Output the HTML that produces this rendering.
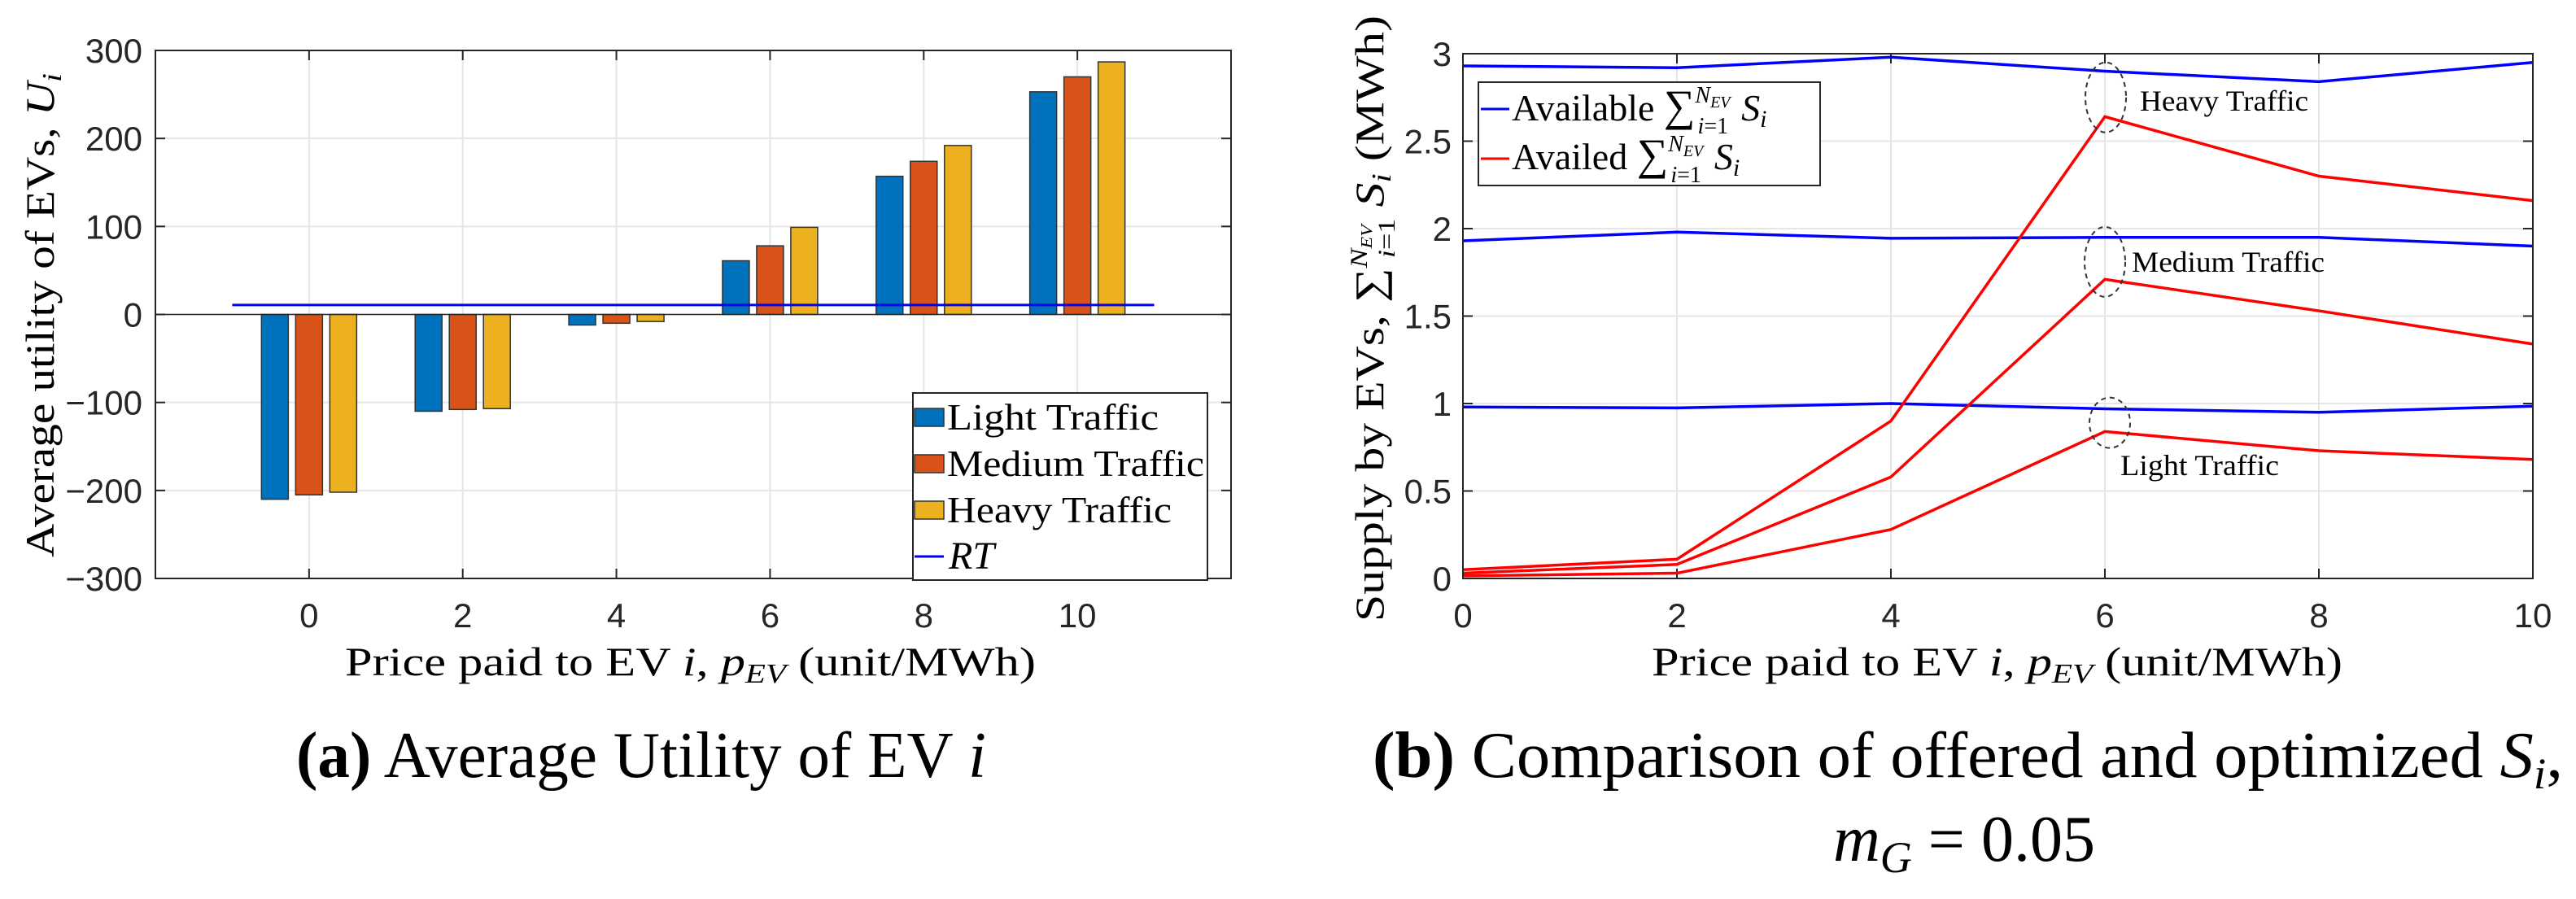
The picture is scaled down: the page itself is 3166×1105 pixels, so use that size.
<!DOCTYPE html>
<html><head><meta charset="utf-8"><style>
html,body{margin:0;padding:0;background:#fff}
svg text{font-family:"Liberation Serif",serif;fill:#000}
.tk{font-family:"Liberation Sans",sans-serif;font-size:42px;fill:#262626}
</style></head><body>
<svg id="s" width="3166" height="1100" xmlns="http://www.w3.org/2000/svg">
<rect width="3166" height="1100" fill="#fff"/>
<g id="A"></g>
<g id="B"></g>
<text x="364" y="955" font-size="80" textLength="848" lengthAdjust="spacingAndGlyphs"><tspan font-weight="bold">(a)</tspan> Average Utility of EV <tspan font-style="italic">i</tspan></text>
<text x="1687" y="955" font-size="80" textLength="1463" lengthAdjust="spacingAndGlyphs"><tspan font-weight="bold">(b)</tspan> Comparison of offered and optimized <tspan font-style="italic">S</tspan><tspan font-style="italic" font-size="54" dy="14">i</tspan><tspan dy="-14">,</tspan></text>
<text x="2253" y="1058" font-size="80" textLength="322" lengthAdjust="spacingAndGlyphs"><tspan font-style="italic">m</tspan><tspan font-style="italic" font-size="54" dy="14">G</tspan><tspan dy="-14"> = 0.05</tspan></text>
</svg>
<script>
const NS='http://www.w3.org/2000/svg';
function mk(p,t,a,txt){const e=document.createElementNS(NS,t);for(const k in a)e.setAttribute(k,a[k]);if(txt!==undefined)e.textContent=txt;p.appendChild(e);return e;}

// ---- Chart A data ----
const priceA=[0,2,4,6,8,10];
const lightA=[-210,-110,-12,61,157,253];
const mediumA=[-205,-108,-10,78,174,270];
const heavyA=[-202,-107,-8,99,192,287];
const rtValue=10.7;
const yTicksA=[-300,-200,-100,0,100,200,300];

// ---- Chart B data ----
const priceB=[0,2,4,6,8,10];
const availHeavy=[2.93,2.92,2.98,2.90,2.84,2.95];
const availMedium=[1.93,1.98,1.945,1.95,1.95,1.90];
const availLight=[0.98,0.975,1.0,0.97,0.95,0.985];
const availedHeavy=[0.05,0.11,0.90,2.64,2.30,2.16];
const availedMedium=[0.03,0.08,0.58,1.71,1.53,1.34];
const availedLight=[0.015,0.03,0.28,0.84,0.73,0.68];
const yTicksB=[0,0.5,1,1.5,2,2.5,3];
const xTicksB=[0,2,4,6,8,10];

function fmt(v){return v<0?'\u2212'+Math.abs(v):String(v);}

// ===== Chart A =====
const A=document.getElementById('A');
const axL=191,axR=1513,axT=62,axB=711;
const xA=v=>axL+(v+2)/14*(axR-axL);
const yA=v=>axT+(300-v)/600*(axB-axT);
priceA.forEach(v=>{const l=mk(A,'line',{x1:xA(v),x2:xA(v),y1:axT,y2:axB,stroke:'#e6e6e6','stroke-width':2});
});
yTicksA.forEach(v=>{const l=mk(A,'line',{x1:axL,x2:axR,y1:yA(v),y2:yA(v),stroke:'#e6e6e6','stroke-width':2});

const t=mk(A,'text',{x:axL-16,y:yA(v)+15,'text-anchor':'end',class:'tk'},fmt(v));

mk(A,'line',{x1:axL,x2:axL+12,y1:yA(v),y2:yA(v),stroke:'#262626','stroke-width':2});
mk(A,'line',{x1:axR,x2:axR-12,y1:yA(v),y2:yA(v),stroke:'#262626','stroke-width':2});});
priceA.forEach(v=>{const t=mk(A,'text',{x:xA(v),y:771,'text-anchor':'middle',class:'tk'},String(v));

mk(A,'line',{x1:xA(v),x2:xA(v),y1:axT,y2:axT+12,stroke:'#262626','stroke-width':2});
mk(A,'line',{x1:xA(v),x2:xA(v),y1:axB,y2:axB-12,stroke:'#262626','stroke-width':2});});
const seriesA=[[lightA,'#0072BD','bar-light'],[mediumA,'#D95319','bar-medium'],[heavyA,'#EDB120','bar-heavy']];
seriesA.forEach((s,si)=>{s[0].forEach((v,i)=>{const cx=xA(priceA[i])+(si-1)*42;
const y0=yA(0),y1=yA(v);
const r=mk(A,'rect',{x:cx-16.5,y:Math.min(y0,y1),width:33,height:Math.abs(y1-y0),fill:s[1],stroke:'#333','stroke-width':1.5});
});});
mk(A,'line',{x1:axL,x2:axR,y1:yA(0),y2:yA(0),stroke:'#262626','stroke-width':1.5});
const rt=mk(A,'line',{x1:xA(-1),x2:xA(11),y1:yA(rtValue),y2:yA(rtValue),stroke:'#0000ff','stroke-width':3});

mk(A,'rect',{x:axL,y:axT,width:axR-axL,height:axB-axT,fill:'none',stroke:'#262626','stroke-width':2});
// legend A
const lgA=mk(A,'g',{});
mk(lgA,'rect',{x:1122,y:483,width:362,height:230,fill:'#fff',stroke:'#262626','stroke-width':2});
const labsA=['Light Traffic','Medium Traffic','Heavy Traffic'];const lens=[260,316,276];
seriesA.forEach((s,i)=>{const y=513+i*57;mk(lgA,'rect',{x:1124,y:y-11,width:36,height:22,fill:s[1],stroke:'#333','stroke-width':1.5});
const t=mk(lgA,'text',{x:1164,y:y+15,'font-size':46,textLength:lens[i],lengthAdjust:'spacingAndGlyphs'},labsA[i]);
});
mk(lgA,'line',{x1:1124,x2:1160,y1:684,y2:684,stroke:'#0000ff','stroke-width':3});
const rtl=mk(lgA,'text',{x:1166,y:699,'font-size':48,'font-style':'italic'},'RT');

// labels A
const xla=mk(A,'text',{x:424,y:830,'font-size':50,textLength:849,lengthAdjust:'spacingAndGlyphs'},'');
xla.innerHTML='Price paid to EV <tspan font-style="italic">i</tspan>, <tspan font-style="italic">p</tspan><tspan font-style="italic" font-size="34" dy="9">EV</tspan><tspan dy="-9"> (unit/MWh)</tspan>';

const yla=mk(A,'text',{x:-298,y:0,'font-size':50,textLength:595,lengthAdjust:'spacingAndGlyphs',transform:'translate(66,387) rotate(-90)'},'');
yla.innerHTML='Average utility of EVs, <tspan font-style="italic">U</tspan><tspan font-style="italic" font-size="34" dy="9">i</tspan>';


// ===== Chart B =====
const B=document.getElementById('B');
const bL=1798,bR=3113,bT=66,bB=711;
const xB=v=>bL+v/10*(bR-bL);
const yB=v=>bB-v/3*(bB-bT);
xTicksB.forEach(v=>{const l=mk(B,'line',{x1:xB(v),x2:xB(v),y1:bT,y2:bB,stroke:'#e6e6e6','stroke-width':2});

const t=mk(B,'text',{x:xB(v),y:771,'text-anchor':'middle',class:'tk'},String(v));

mk(B,'line',{x1:xB(v),x2:xB(v),y1:bT,y2:bT+12,stroke:'#262626','stroke-width':2});
mk(B,'line',{x1:xB(v),x2:xB(v),y1:bB,y2:bB-12,stroke:'#262626','stroke-width':2});});
yTicksB.forEach(v=>{const l=mk(B,'line',{x1:bL,x2:bR,y1:yB(v),y2:yB(v),stroke:'#e6e6e6','stroke-width':2});

const t=mk(B,'text',{x:bL-14,y:yB(v)+15,'text-anchor':'end',class:'tk'},String(v));

mk(B,'line',{x1:bL,x2:bL+12,y1:yB(v),y2:yB(v),stroke:'#262626','stroke-width':2});
mk(B,'line',{x1:bR,x2:bR-12,y1:yB(v),y2:yB(v),stroke:'#262626','stroke-width':2});});
const linesB=[[availHeavy,'#0000ff','available-heavy-line'],[availMedium,'#0000ff','available-medium-line'],[availLight,'#0000ff','available-light-line'],
[availedHeavy,'#ff0000','availed-heavy-line'],[availedMedium,'#ff0000','availed-medium-line'],[availedLight,'#ff0000','availed-light-line']];
linesB.forEach(s=>{const pts=s[0].map((v,i)=>xB(priceB[i])+','+yB(v)).join(' ');
const p=mk(B,'polyline',{points:pts,fill:'none',stroke:s[1],'stroke-width':3.5});
});
mk(B,'rect',{x:bL,y:bT,width:bR-bL,height:bB-bT,fill:'none',stroke:'#262626','stroke-width':2});
// annotations
const ells=[[2588,2.75,25,43],[2587,1.81,25,43],[2593,0.89,25,31]];
ells.forEach(e=>{const el=mk(B,'ellipse',{cx:e[0],cy:yB(e[1]),rx:e[2],ry:e[3],fill:'none',stroke:'#333','stroke-width':2,'stroke-dasharray':'6,5'});
});
[['Heavy Traffic',2630,136,207],['Medium Traffic',2620,334,237],['Light Traffic',2606,584,195]].forEach(a=>{
const t=mk(B,'text',{x:a[1],y:a[2],'font-size':36,textLength:a[3],lengthAdjust:'spacingAndGlyphs'},a[0]);});
// legend B
const lgB=mk(B,'g',{});
mk(lgB,'rect',{x:1817,y:101,width:420,height:127,fill:'#fff',stroke:'#262626','stroke-width':2});
mk(lgB,'line',{x1:1820,x2:1855,y1:134,y2:134,stroke:'#0000ff','stroke-width':3});
mk(lgB,'line',{x1:1820,x2:1855,y1:195,y2:195,stroke:'#ff0000','stroke-width':3});
const l1=mk(lgB,'text',{x:1858,y:148,'font-size':46},'');
l1.innerHTML='Available <tspan font-size="54">∑</tspan><tspan font-size="28" font-style="italic" dy="-22">N</tspan><tspan font-size="20" font-style="italic" dy="6">EV</tspan><tspan font-size="28" font-style="italic" dx="-40" dy="32">i</tspan><tspan font-size="28">=1</tspan><tspan font-style="italic" dx="16" dy="-16">S</tspan><tspan font-style="italic" font-size="30" dy="8">i</tspan>';

const l2=mk(lgB,'text',{x:1858,y:208,'font-size':46},'');
l2.innerHTML='Availed <tspan font-size="54">∑</tspan><tspan font-size="28" font-style="italic" dy="-22">N</tspan><tspan font-size="20" font-style="italic" dy="6">EV</tspan><tspan font-size="28" font-style="italic" dx="-40" dy="32">i</tspan><tspan font-size="28">=1</tspan><tspan font-style="italic" dx="16" dy="-16">S</tspan><tspan font-style="italic" font-size="30" dy="8">i</tspan>';

// labels B
const xlb=mk(B,'text',{x:2030,y:830,'font-size':50,textLength:849,lengthAdjust:'spacingAndGlyphs'},'');
xlb.innerHTML='Price paid to EV <tspan font-style="italic">i</tspan>, <tspan font-style="italic">p</tspan><tspan font-style="italic" font-size="34" dy="9">EV</tspan><tspan dy="-9"> (unit/MWh)</tspan>';

const ylb=mk(B,'text',{x:-372,y:0,'font-size':50,textLength:745,lengthAdjust:'spacingAndGlyphs',transform:'translate(1700,392) rotate(-90)'},'');
ylb.innerHTML='Supply by EVs, ∑<tspan font-size="30" font-style="italic" dy="-20">N</tspan><tspan font-size="20" font-style="italic" dy="6">EV</tspan><tspan font-size="30" font-style="italic" dx="-34" dy="28">i</tspan><tspan font-size="30">=1</tspan><tspan font-style="italic" dx="12" dy="-14">S</tspan><tspan font-style="italic" font-size="34" dy="9">i</tspan><tspan dy="-9"> (MWh)</tspan>';

</script>
</body></html>
